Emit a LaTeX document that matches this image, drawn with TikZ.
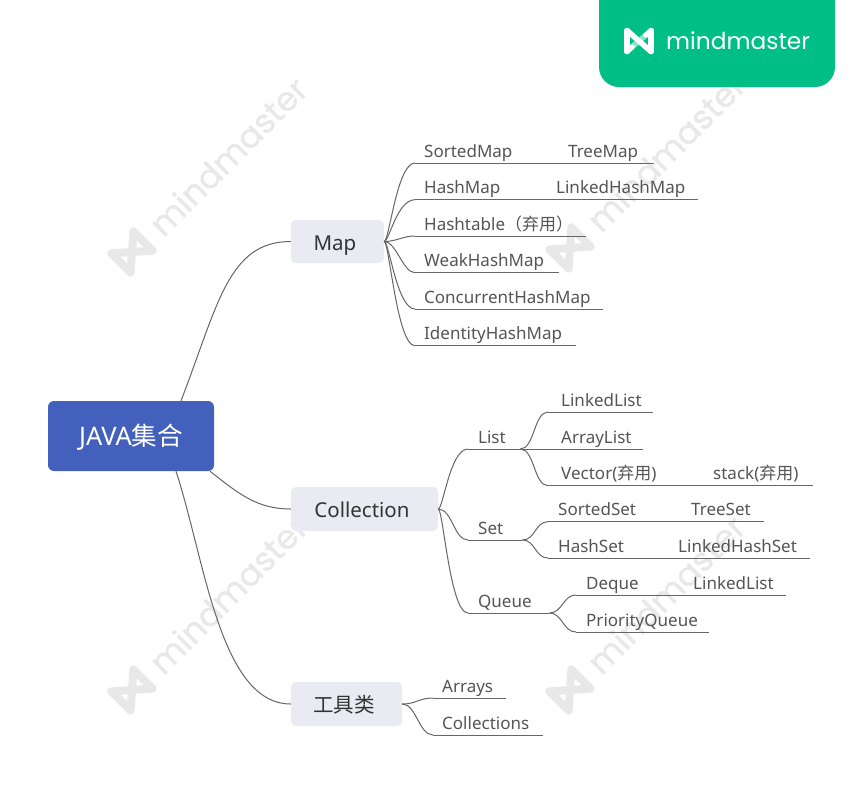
\documentclass[tikz,border=0pt]{standalone}
\usepackage{fontspec}
\setmainfont{Noto Sans}
\newfontfamily\cjk{Noto Sans CJK SC}
\newfontfamily\wm{Poppins}
\newfontfamily\wmb[FakeBold=0.6]{Poppins}
\usetikzlibrary{calc}
\definecolor{rootblue}{HTML}{4360BD}
\definecolor{subbox}{HTML}{E9EAF2}
\definecolor{linec}{HTML}{666666}
\definecolor{leaftext}{HTML}{555555}
\definecolor{green}{HTML}{00BF86}
\definecolor{wmc}{HTML}{E8E8E8}
\tikzset{
  x=1pt,y=-1pt,
  conn/.style={draw=linec,line width=1pt},
  ul/.style={draw=linec,line width=1pt},
  leaf/.style={inner sep=0pt,text depth=5.8pt,text height=14pt,align=left,text=leaftext,font=\fontsize{17}{20}\selectfont},
  subb/.style={fill=subbox,rounded corners=5pt,inner sep=0pt,text height=22pt,text depth=5pt,text=black!80,font=\fontsize{20.5}{24}\selectfont},
  rootb/.style={fill=rootblue,rounded corners=6pt,inner sep=0pt,text height=24pt,text depth=6pt,text=white,font=\fontsize{25.5}{30}\selectfont},
}
\newcommand\leaf[6]{\pgfmathsetmacro\lw{#3-#2}%
  \node[leaf,text width=\lw pt,anchor=south west](#1) at (#2,#4){\hspace*{#5pt}#6};
  \draw[ul] (#1.south west)--(#1.south east);}
\newcommand\branch[3]{\draw[conn] (#1) .. controls ($(#1)+(#3,0)$) and ($(#2)+(-#3,0)$) .. (#2);}
\newcommand\branchb[2]{\draw[conn] (#1) .. controls ($(#1)+(5,0)$) and ($(#2)+(-18,0)$) .. (#2);}
\newcommand\wmark[2]{%
 \begin{scope}[shift={(#1,#2)},rotate=45]
  \draw[wmc,line width=8pt,line cap=round,line join=round] (-15.6,13.6)--(15.6,-13.6)--(15.6,13.6)--(-15.6,-13.6)--cycle;
  \node[anchor=west,inner sep=0pt,text=wmc,transform shape,font=\wmb\fontsize{33.5}{40}\selectfont] (wm#1#2) at (32,0) {mindmaster};
 \end{scope}}
\begin{document}
\begin{tikzpicture}
\useasboundingbox (0,0) rectangle (860,785);
\fill[white] (0,0) rectangle (860,785);
\wmark{132}{252}
\wmark{570}{248}
\wmark{132}{690}
\wmark{570}{690}
% banner
\fill[green,rounded corners=20pt] (599,-30) rectangle (835,87);
\begin{scope}[shift={(639,41)}]
 \draw[white,line width=5.5pt,line cap=round,line join=round] (-12,-10.5)--(-12,10.5);
 \draw[white,line width=5.5pt,line cap=round,line join=round] (12,-10.5)--(12,10.5);
 \draw[white,line width=5.5pt,line cap=round,line join=round] (-12,-10.5)--(12,10.5);
 \draw[white,line width=5.5pt,line cap=round] (12,-10.5)--(7,-6);
 \draw[white,line width=5.5pt,line cap=round] (-12,10.5)--(-7,6);
 \draw[white,line width=5.5pt,opacity=.55] (-7,6)--(7,-6);
\end{scope}
\node[anchor=west,inner sep=0pt,text=white,font=\wm\fontsize{23.3}{30}\selectfont] (brand) at (666,41) {mindmaster};
% main nodes
\node[rootb,minimum width=166pt,minimum height=70pt] (root) at (131,436) {JAVA{\cjk 集合}};
\node[subb,minimum width=93pt,minimum height=43pt] (map) at (337.5,241.5) {\hspace*{-5pt}Map};
\node[subb,minimum width=147pt,minimum height=44pt] (coll) at (364.5,509) {\hspace*{-5pt}Collection};
\node[subb,minimum width=111pt,minimum height=44pt] (tool) at (346.5,704) {\hspace*{-5pt}{\cjk 工具类}};
\draw[conn] ([xshift=50pt]root.north) .. controls (218,305) and (228,241.5) .. (map.west);
\draw[conn] ([xshift=79pt]root.south) .. controls (240,495) and (258,509) .. (coll.west);
\draw[conn] ([xshift=45pt]root.south) .. controls (205,560) and (220,704) .. (tool.west);
% Map
\leaf{sm}{415}{527}{163}{9}{SortedMap}
\leaf{tm}{558}{654}{163}{10}{TreeMap}
\leaf{hm}{415}{514}{199.7}{9}{HashMap}
\leaf{lhm}{547}{698}{199.7}{9}{LinkedHashMap}
\leaf{ht}{415}{586}{236}{9}{Hashtable{\cjk（弃用）}}
\leaf{wh}{415}{559}{272.7}{9}{WeakHashMap}
\leaf{ch}{415}{603}{309}{9}{ConcurrentHashMap}
\leaf{ih}{415}{576}{345.7}{9}{IdentityHashMap}
\draw[ul] (sm.south east)--(tm.south west);
\draw[ul] (hm.south east)--(lhm.south west);
\foreach \n in {sm,hm,ih,ch}{\branchb{map.east}{\n.south west}}
\foreach \n in {ht,wh}{\branch{map.east}{\n.south west}{12}}
% Collection
\leaf{list}{468}{520}{449}{10}{List}
\leaf{set}{468}{522}{540}{10}{Set}
\leaf{queue}{468}{549}{613}{10}{Queue}
\branchb{coll.east}{list.south west}
\branch{coll.east}{set.south west}{14}
\branchb{coll.east}{queue.south west}
\leaf{ll}{548}{653}{412}{13}{LinkedList}
\leaf{al}{520}{643}{449}{41}{ArrayList}
\leaf{vec}{548}{673}{485.7}{13}{Vector({\cjk 弃用})}
\leaf{st}{703}{813}{485.7}{10}{stack({\cjk 弃用})}
\draw[ul] (vec.south east)--(st.south west);
\branch{list.south east}{ll.south west}{14}
\branch{list.south east}{vec.south west}{14}
\leaf{ss}{548}{649}{521.7}{10}{SortedSet}
\leaf{ts}{682}{764}{521.7}{9}{TreeSet}
\leaf{hs}{548}{637}{558}{10}{HashSet}
\leaf{lhs}{668}{810}{558}{10}{LinkedHashSet}
\draw[ul] (ss.south east)--(ts.south west);
\draw[ul] (hs.south east)--(lhs.south west);
\branch{set.south east}{ss.south west}{13}
\branch{set.south east}{hs.south west}{13}
\leaf{dq}{576}{660}{595}{10}{Deque}
\leaf{ll2}{683}{786}{595}{10}{LinkedList}
\leaf{pq}{576}{709}{632}{10}{PriorityQueue}
\draw[ul] (dq.south east)--(ll2.south west);
\branch{queue.south east}{dq.south west}{13}
\branch{queue.south east}{pq.south west}{13}
% Tools
\leaf{ar}{433}{506}{698}{9}{Arrays}
\leaf{co}{433}{543}{735}{9}{Collections}
\branch{tool.east}{ar.south west}{14}
\branch{tool.east}{co.south west}{14}
\end{tikzpicture}
\end{document}
